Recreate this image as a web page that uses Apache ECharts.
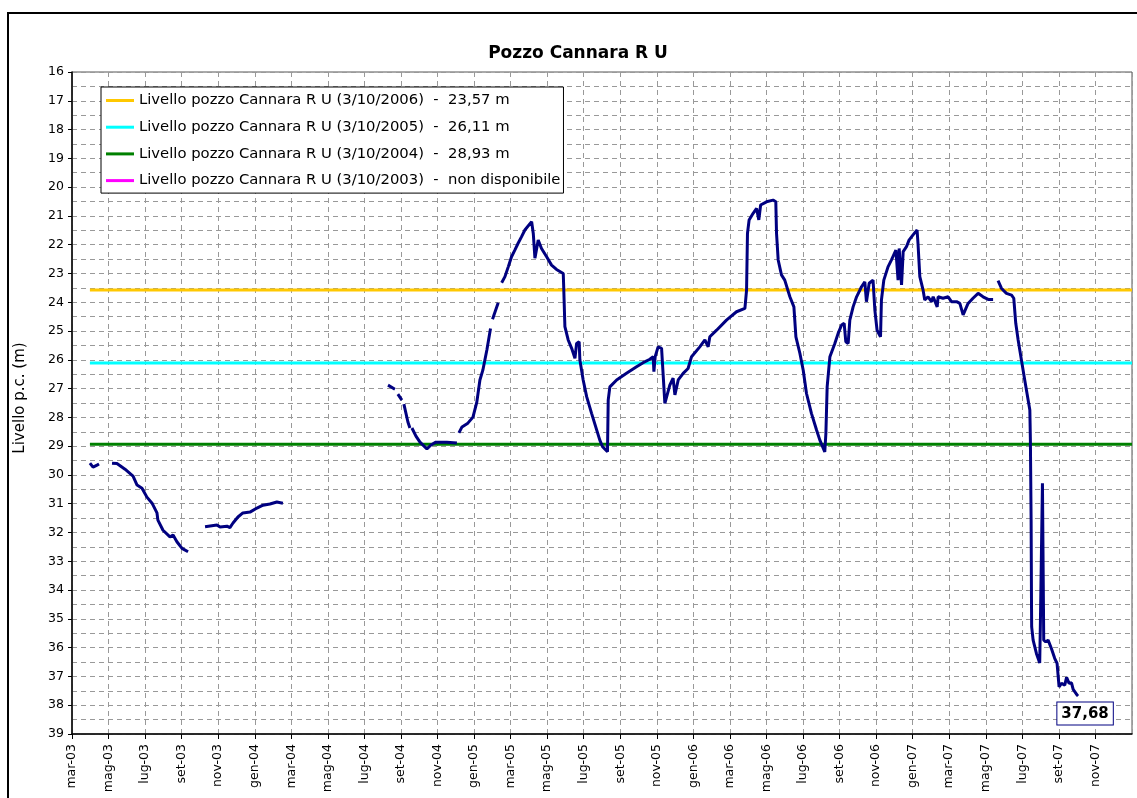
<!DOCTYPE html>
<html>
<head>
<meta charset="utf-8">
<script src="https://cdn.jsdelivr.net/npm/echarts@6/dist/echarts.min.js"></script>
<style>
  html, body { margin: 0; padding: 0; background: #fff; }
  #main { width: 1137px; height: 798px; }
</style>
</head>
<body>
<div id="main"></div>
<script>
// mesi da mar-03 (0) a gen-08 (58)
const MESI = ["gen", "feb", "mar", "apr", "mag", "giu", "lug", "ago", "set", "ott", "nov", "dic"];

// posizione in mesi dall'inizio (mar-03) e livello p.c. (m); null = dato mancante
const mesePos = [
  0.98, 1.15, 1.37, 1.48, null,
  2.19, 2.46, 2.90, 3.34, 3.56, 3.83, 4.10, 4.38, 4.65, 4.70, 4.98, 5.36, 5.53, 5.74, 6.02, 6.35, null,
  7.28, 7.38, 7.93, 8.10, 8.48, 8.64, 8.81, 9.08, 9.35, 9.74, 10.12, 10.45, 10.83, 11.21, 11.54, null,
  17.29, 17.67, null,
  17.83, 18.05, null,
  18.16, 18.38, 18.49, null,
  18.60, 18.82, 19.04, 19.42, 19.64, 19.91, 20.51, 21.06, null,
  21.17, 21.34, 21.66, 21.94, 22.15, 22.32, 22.48, 22.70, 22.90, null,
  23.01, 23.32, null,
  23.51, 23.69, 23.87, 24.05, 24.23, 24.41, 24.60, 24.78, 25.15, 25.24, 25.33, 25.51, 25.69, 25.97,
  26.24, 26.51, 26.88, 26.91, 26.97, 27.15, 27.34, 27.52, 27.61, 27.75, 27.79, 27.97, 28.16, 28.43,
  28.88, 29.03, 29.30, 29.34, 29.43, 29.80, 30.34, 30.89, 31.25, 31.62, 31.80, 31.84, 31.91, 32.07,
  32.26, 32.44, 32.71, 32.89, 32.99, 33.17, 33.44, 33.71, 33.90, 34.35, 34.63, 34.81, 34.90, 35.27,
  35.81, 36.36, 36.82, 36.91, 36.96, 37.05, 37.27, 37.46, 37.58, 37.68, 38.00, 38.36, 38.51, 38.55,
  38.64, 38.82, 39.00, 39.28, 39.50, 39.61, 39.83, 40.01, 40.19, 40.46, 40.74, 40.92, 41.19, 41.25,
  41.32, 41.47, 41.74, 41.92, 42.11, 42.25, 42.34, 42.47, 42.56, 42.74, 42.93, 43.20, 43.38, 43.47,
  43.62, 43.83, 43.93, 44.05, 44.24, 44.29, 44.42, 44.65, 44.84, 45.08, 45.20, 45.26, 45.39, 45.48,
  45.66, 45.80, 46.02, 46.24, 46.29, 46.39, 46.57, 46.66, 46.84, 47.03, 47.12, 47.34, 47.39, 47.66,
  47.94, 48.12, 48.40, 48.58, 48.76, 49.03, 49.30, 49.58, 49.85, 50.13, 50.40, null,
  50.67, 50.86, 51.13, 51.41, 51.53, 51.64, 51.77, 51.95, 52.13, 52.41, 52.44, 52.48, 52.50, 52.51,
  52.59, 52.77, 52.95, 52.99, 53.05, 53.10, 53.17, 53.28, 53.41, 53.59, 53.77, 53.90, 54.01, 54.14,
  54.32, 54.42, 54.56, 54.69, 54.78, 55.00, 55.05
];
const livello = [
  29.59, 29.73, 29.66, 29.62, null,
  29.59, 29.60, 29.80, 30.04, 30.35, 30.46, 30.77, 30.98, 31.32, 31.57, 31.92, 32.15, 32.09, 32.32, 32.55, 32.67, null,
  31.80, 31.74, 31.74, 31.81, 31.78, 31.83, 31.67, 31.46, 31.32, 31.29, 31.15, 31.05, 31.01, 30.94, 30.98, null,
  26.88, 27.02, null,
  27.19, 27.40, null,
  27.54, 28.16, 28.37, null,
  28.37, 28.65, 28.86, 29.10, 28.96, 28.86, 28.86, 28.89, null,
  28.54, 28.33, 28.20, 27.99, 27.47, 26.70, 26.36, 25.66, 24.91, null,
  24.59, 24.02, null,
  23.32, 23.11, 22.77, 22.42, 22.19, 21.95, 21.72, 21.49, 21.20, 21.61, 22.47, 21.84, 22.13, 22.42,
  22.71, 22.86, 23.00, 23.58, 24.85, 25.31, 25.60, 25.95, 25.43, 25.37, 26.01, 26.70, 27.28, 27.86,
  28.79, 29.02, 29.19, 27.40, 26.94, 26.70, 26.47, 26.24, 26.10, 25.98, 25.89, 26.41, 25.89, 25.55,
  25.60, 27.51, 26.88, 26.64, 27.22, 26.70, 26.47, 26.30, 25.89, 25.55, 25.31, 25.55, 25.20, 24.97,
  24.62, 24.33, 24.21, 23.58, 21.61, 21.14, 20.91, 20.74, 21.14, 20.62, 20.51, 20.45, 20.51, 21.61,
  22.53, 23.05, 23.23, 23.81, 24.16, 25.20, 25.78, 26.36, 27.17, 27.86, 28.44, 28.79, 29.20, 28.56,
  26.94, 25.89, 25.43, 25.08, 24.79, 24.73, 25.37, 25.43, 24.62, 24.16, 23.81, 23.46, 23.29, 23.98,
  23.34, 23.23, 24.27, 24.97, 25.20, 23.92, 23.23, 22.77, 22.53, 22.19, 23.23, 22.13, 23.40, 22.24,
  22.07, 21.84, 21.66, 21.49, 21.95, 23.11, 23.58, 23.92, 23.81, 23.98, 23.81, 24.16, 23.81, 23.86,
  23.81, 23.98, 23.98, 24.04, 24.44, 24.04, 23.86, 23.69, 23.81, 23.90, 23.90, null,
  23.25, 23.52, 23.69, 23.75, 23.86, 24.73, 25.31, 26.01, 26.70, 27.74, 28.79, 31.57, 34.35, 35.28,
  35.74, 36.20, 36.53, 35.04, 35.10, 30.29, 35.74, 35.80, 35.74, 36.03, 36.37, 36.55, 37.36, 37.24,
  37.30, 37.03, 37.24, 37.22, 37.45, 37.65, 37.68
];

// livelli di riferimento al 3 ottobre
const rifNomi = [
  "Livello pozzo Cannara R U (3/10/2006)  -  23,57 m",
  "Livello pozzo Cannara R U (3/10/2005)  -  26,11 m",
  "Livello pozzo Cannara R U (3/10/2004)  -  28,93 m",
  "Livello pozzo Cannara R U (3/10/2003)  -  non disponibile"
];
const rifValori = [23.57, 26.11, 28.93, null];
const rifColori = ["#FFC800", "#00FFFF", "#008000", "#FF00FF"];
const rifDa = 0.98, rifA = 58;

const ultimoValore = "37,68";

const FONT = "DejaVu Sans";

const datiPozzo = mesePos.map(function (m, i) {
  return m === null ? "-" : [m, livello[i]];
});
const ultimo = [mesePos[mesePos.length - 1], livello[livello.length - 1]];

const series = [];
for (let i = 0; i < rifNomi.length; ++i) {
  series.push({
    name: rifNomi[i],
    type: "line",
    symbol: "none",
    silent: true,
    color: rifColori[i],
    lineStyle: { color: rifColori[i], width: 3 },
    data: rifValori[i] === null ? [] : [[rifDa, rifValori[i]], [rifA, rifValori[i]]],
    z: 3
  });
}
series.push({
  name: "Pozzo",
  type: "line",
  symbol: "none",
  connectNulls: false,
  lineStyle: { color: "#000080", width: 3 },
  data: datiPozzo,
  markPoint: {
    symbol: "rect",
    symbolSize: 1,
    itemStyle: { color: "rgba(0,0,0,0)" },
    silent: true,
    data: [{ coord: ultimo }],
    label: {
      show: true,
      formatter: ultimoValore,
      position: "bottom",
      distance: 6,
      offset: [7, 0],
      fontFamily: FONT,
      fontSize: 15,
      fontWeight: "bold",
      color: "#000",
      backgroundColor: "#fff",
      borderColor: "#000080",
      borderWidth: 1,
      padding: [4, 4, 3, 4]
    }
  },
  z: 4
});

const dash = [5, 4];
const chart = echarts.init(document.getElementById("main"));
chart.setOption({
  animation: false,
  backgroundColor: "#fff",
  textStyle: { fontFamily: FONT },
  title: {
    text: "Pozzo Cannara R U",
    left: 573,
    top: 40,
    textAlign: "center",
    textStyle: { fontFamily: FONT, fontSize: 17, fontWeight: "bold", color: "#000" }
  },
  graphic: [{
    type: "rect",
    shape: { x: 8, y: 13, width: 1300, height: 1000 },
    style: { fill: null, stroke: "#000", lineWidth: 2 },
    silent: true
  }],
  legend: {
    data: rifNomi,
    orient: "vertical",
    left: 101,
    top: 87,
    itemWidth: 28,
    itemHeight: 3,
    itemGap: 9.7,
    icon: "rect",
    padding: [5, 3, 4, 5],
    backgroundColor: "#fff",
    borderColor: "#000",
    borderWidth: 1,
    selectedMode: false,
    textStyle: { fontFamily: FONT, fontSize: 14.8, color: "#000", lineHeight: 17 },
    z: 10
  },
  grid: {
    left: 72, top: 72, right: 5, bottom: 64,
    show: true, borderColor: "#555", borderWidth: 1
  },
  xAxis: {
    type: "value",
    min: 0, max: 58, interval: 2,
    axisLine: { lineStyle: { color: "#000", width: 1.5 } },
    axisTick: { length: 5, lineStyle: { color: "#000" } },
    splitLine: { show: true, lineStyle: { color: "#999", type: dash } },
    axisLabel: {
      rotate: 90,
      fontFamily: FONT,
      fontSize: 12.5,
      color: "#000",
      margin: 10,
      showMaxLabel: false,
      formatter: function (v) {
        const k = Math.round(v) + 2;
        const anno = 3 + Math.floor(k / 12);
        return MESI[k % 12] + "-" + (anno < 10 ? "0" : "") + anno;
      }
    }
  },
  yAxis: {
    type: "value",
    inverse: true,
    min: 16, max: 39, interval: 1,
    name: "Livello p.c. (m)",
    nameLocation: "middle",
    nameGap: 44,
    nameRotate: 90,
    nameTextStyle: { fontFamily: FONT, fontSize: 15, color: "#000", padding: [0, 0, 0, 10] },
    axisLine: { show: true, lineStyle: { color: "#000", width: 1.5 } },
    axisTick: { show: true, length: 4, lineStyle: { color: "#000" } },
    minorTick: { show: false, splitNumber: 2 },
    minorSplitLine: { show: true, lineStyle: { color: "#999", type: dash } },
    splitLine: { show: true, lineStyle: { color: "#999", type: dash } },
    axisLabel: { fontFamily: FONT, fontSize: 12.5, color: "#000", margin: 8 }
  },
  series: series
});
</script>
</body>
</html>
